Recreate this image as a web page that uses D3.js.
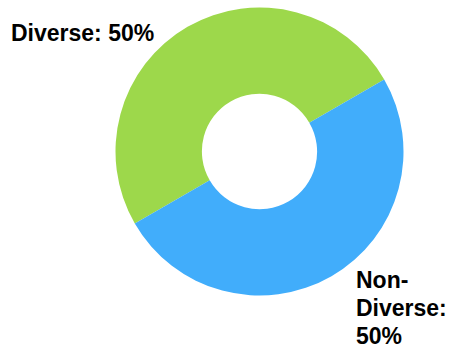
<!DOCTYPE html>
<html>
<head>
<meta charset="utf-8">
<script src="https://cdn.jsdelivr.net/npm/d3@7"></script>
<style>
  body { margin: 0; background: #fff; }
  text { font-family: "Liberation Sans", Arial, sans-serif; font-weight: bold; fill: #000; }
</style>
</head>
<body>
<div id="chart"></div>
<script>
const categories = ["Diverse", "Non-Diverse"];
const values = [50, 50];
const colors = ["#9dd84b", "#41adfb"];

let width = 449, height = 351;
let cx = 259.5, cy = 151.5;
let outerR = 144, innerR = 57.5;

let svg = d3.select("#chart")
  .append("svg")
  .attr("width", width)
  .attr("height", height);

let data = categories.map((c, i) => ({ name: c, value: values[i] }));

let pie = d3.pie()
  .sort(null)
  .value(d => d.value)
  .startAngle(-2 * Math.PI / 3)
  .endAngle(4 * Math.PI / 3);

let arc = d3.arc()
  .innerRadius(innerR)
  .outerRadius(outerR);

let color = d3.scaleOrdinal()
  .domain(categories)
  .range(colors);

let g = svg.append("g")
  .attr("transform", `translate(${cx},${cy})`);

g.selectAll("path")
  .data(pie(data))
  .enter()
  .append("path")
  .attr("d", arc)
  .attr("fill", d => color(d.data.name));

// labels
let total = d3.sum(values);
let pct = v => Math.round(v / total * 100) + "%";

svg.append("text")
  .attr("x", 11)
  .attr("y", 41)
  .attr("font-size", 23)
  .text(`${categories[0]}: ${pct(values[0])}`);

let lbl = svg.append("text")
  .attr("x", 356)
  .attr("y", 288)
  .attr("font-size", 23);
["Non-", "Diverse:", pct(values[1])].forEach((t, i) => {
  lbl.append("tspan")
    .attr("x", 356)
    .attr("dy", i === 0 ? 0 : 28)
    .text(t);
});
</script>
</body>
</html>
